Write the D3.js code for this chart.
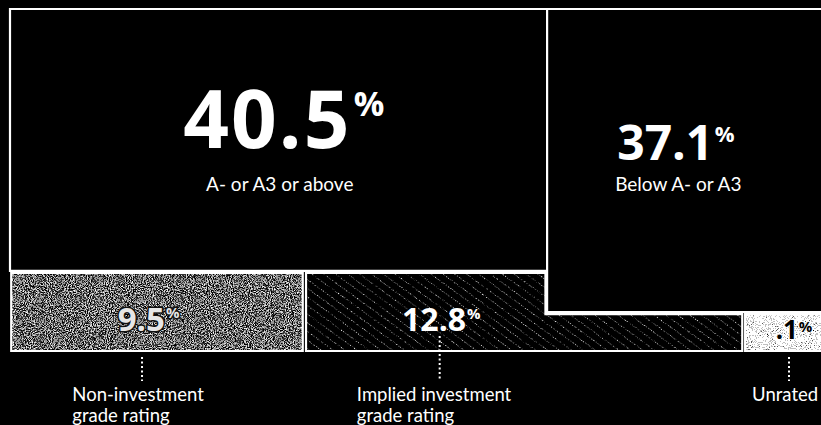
<!DOCTYPE html>
<html>
<head>
<meta charset="utf-8">
<script src="https://cdn.jsdelivr.net/npm/d3@7"></script>
<style>
  html, body { margin: 0; padding: 0; background: #000; }
  svg { display: block; }
  text { font-family: Lato, "Open Sans", sans-serif; }
  text.val { font-family: "Open Sans", Lato, sans-serif; }
</style>
</head>
<body>
<div id="chart"></div>
<script>
// ---------------- DATA ----------------
const categories = ["A- or A3 or above", "Below A- or A3", "Non-investment grade rating", "Implied investment grade rating", "Unrated"];
const values = [40.5, 37.1, 9.5, 12.8, 0.1];
const valueLabels = ["40.5", "37.1", "9.5", "12.8", ".1"];
const footLines = [null, null, ["Non-investment", "grade rating"], ["Implied investment", "grade rating"], ["Unrated"]];

// ---------------- LAYOUT (unit coords 0..100) ----------------
const W = 821, H = 425;
const shapes = [
  [[0, 0], [65.5, 0], [65.5, 76.6], [0, 76.6]],
  [[65.5, 0], [102, 0], [102, 88.6], [65.5, 88.6]],
  [[0.15, 77.2], [35.7, 77.2], [35.7, 100], [0.15, 100]],
  [[36.1, 77.2], [65.3, 77.2], [65.3, 89.2], [89.3, 89.2], [89.3, 100], [36.1, 100]],
  [[89.65, 89.2], [102, 89.2], [102, 100], [89.65, 100]]
];
const textures = ["solid", "solid", "noiseDark", "hatch", "noiseLight"];
// label anchor (center x, baseline y) in unit coords
const labelPos = [[33.4, 40.7], [81.2, 44.2], [16.9, 94.2], [52.6, 94.2], [95.6, 96.6]];
const labelSize = [80, 48, 33, 32, 26];
const labelSpacing = [2, 0, 0, 0, 0];
const pctSize = [34, 22, 15, 15, 15];
const subPos = [[32.9, 53.1], [81.5, 53.1]];
const leaderX = [null, null, 16.1, 52.4, 95.0];
const footX = [null, null, 7.6, 42.3, 90.5];

const x = d3.scaleLinear().domain([0, 100]).range([10, 830]);
const y = d3.scaleLinear().domain([0, 100]).range([9, 351]);

const svg = d3.select("#chart").append("svg")
  .attr("width", W).attr("height", H)
  .style("background", "#000");

const defs = svg.append("defs");

function noiseFilter(id, freq, seed, table) {
  const f = defs.append("filter").attr("id", id)
    .attr("x", 0).attr("y", 0).attr("width", 1).attr("height", 1)
    .attr("filterUnits", "objectBoundingBox")
    .attr("color-interpolation-filters", "sRGB");
  f.append("feTurbulence").attr("type", "fractalNoise")
    .attr("baseFrequency", freq).attr("numOctaves", 2).attr("seed", seed).attr("result", "n");
  f.append("feColorMatrix").attr("type", "matrix")
    .attr("values", "1 0 0 0 0  1 0 0 0 0  1 0 0 0 0  0 0 0 0 1");
  const ct = f.append("feComponentTransfer");
  ["feFuncR", "feFuncG", "feFuncB"].forEach(fn =>
    ct.append(fn).attr("type", "discrete").attr("tableValues", table));
}
noiseFilter("noiseDark", 0.95, 4, "0 0 0 0.2 0.6 0.85 1 1");
noiseFilter("noiseLight", 0.95, 7, "0 0.35 0.75 1 1 1 1");
noiseFilter("noiseMask", 0.7, 11, "0 0 0 0.3 0.8 1 1");

// hatch pattern
const pat = defs.append("pattern").attr("id", "hatch")
  .attr("patternUnits", "userSpaceOnUse").attr("width", 8).attr("height", 7)
  .attr("patternTransform", "rotate(36)");
pat.append("rect").attr("width", 8).attr("height", 7).attr("fill", "#000");
pat.append("line").attr("x1", 0).attr("x2", 8).attr("y1", 3.5).attr("y2", 3.5)
  .attr("stroke", "#fff").attr("stroke-width", 1.2).attr("stroke-dasharray", "1.6 1.2");

const line = d3.line().x(d => x(d[0])).y(d => y(d[1]));
const pathOf = pts => line(pts) + "Z";

shapes.forEach((pts, i) => {
  const clipId = "clip" + i;
  defs.append("clipPath").attr("id", clipId).append("path").attr("d", pathOf(pts));
  const xs = pts.map(p => x(p[0])), ys = pts.map(p => y(p[1]));
  const bx = d3.min(xs), by = d3.min(ys), bw = d3.max(xs) - bx, bh = d3.max(ys) - by;
  const g = svg.append("g").attr("clip-path", `url(#${clipId})`);
  g.append("rect").attr("x", bx).attr("y", by).attr("width", bw).attr("height", bh).attr("fill", "#000");
  const t = textures[i];
  if (t === "noiseDark" || t === "noiseLight") {
    g.append("rect").attr("x", bx).attr("y", by).attr("width", bw).attr("height", bh)
      .attr("fill", "#000").attr("filter", `url(#${t})`);
  } else if (t === "hatch") {
    const mId = "mask" + i;
    const m = defs.append("mask").attr("id", mId).attr("maskUnits", "userSpaceOnUse")
      .attr("x", bx).attr("y", by).attr("width", bw).attr("height", bh);
    m.append("rect").attr("x", bx).attr("y", by).attr("width", bw).attr("height", bh)
      .attr("fill", "#000").attr("filter", "url(#noiseMask)");
    g.append("rect").attr("x", bx).attr("y", by).attr("width", bw).attr("height", bh)
      .attr("fill", "url(#hatch)").attr("mask", `url(#${mId})`);
  }
  svg.append("path").attr("d", pathOf(pts))
    .attr("fill", "none").attr("stroke", "#fff").attr("stroke-width", 2.2);
});

// value labels
values.forEach((v, i) => {
  const [cx, by] = labelPos[i];
  const dark = textures[i] === "noiseLight";
  const outlined = textures[i] === "noiseDark";
  const t = svg.append("text").attr("class", "val")
    .attr("x", x(cx)).attr("y", y(by))
    .attr("text-anchor", "middle")
    .attr("font-weight", 700)
    .attr("fill", dark ? "#000" : (outlined ? "#e6e6e6" : "#fff"));
  if (outlined) t.attr("stroke", "#111").attr("stroke-width", 3).attr("paint-order", "stroke");
  if (dark) t.attr("stroke", "#fff").attr("stroke-width", 1.5).attr("paint-order", "stroke");
  t.append("tspan").attr("font-size", labelSize[i])
    .attr("letter-spacing", labelSpacing[i]).text(valueLabels[i]);
  t.append("tspan").attr("font-size", pctSize[i])
    .attr("dx", labelSize[i] * 0.03)
    .attr("dy", -(labelSize[i] * 0.71 - pctSize[i] * 0.71))
    .text("%");
});

// subtitles inside the big boxes
subPos.forEach((p, i) => {
  svg.append("text").attr("x", x(p[0])).attr("y", y(p[1]))
    .attr("text-anchor", "middle").attr("font-size", 19).attr("fill", "#fff")
    .text(categories[i]);
});

// leader lines
leaderX.forEach((lx, i) => {
  if (lx === null) return;
  svg.append("line").attr("x1", x(lx)).attr("x2", x(lx))
    .attr("y1", i === 3 ? 336 : 357).attr("y2", 381)
    .attr("stroke", "#fff").attr("stroke-width", 2).attr("stroke-dasharray", "2 2.5");
});

// footer labels
footLines.forEach((lines, i) => {
  if (!lines) return;
  const t = svg.append("text").attr("x", x(footX[i])).attr("y", 401)
    .attr("font-size", 18.5).attr("fill", "#fff");
  lines.forEach((s, k) => {
    t.append("tspan").attr("x", x(footX[i])).attr("dy", k === 0 ? 0 : 21).text(s);
  });
});
</script>
</body>
</html>
